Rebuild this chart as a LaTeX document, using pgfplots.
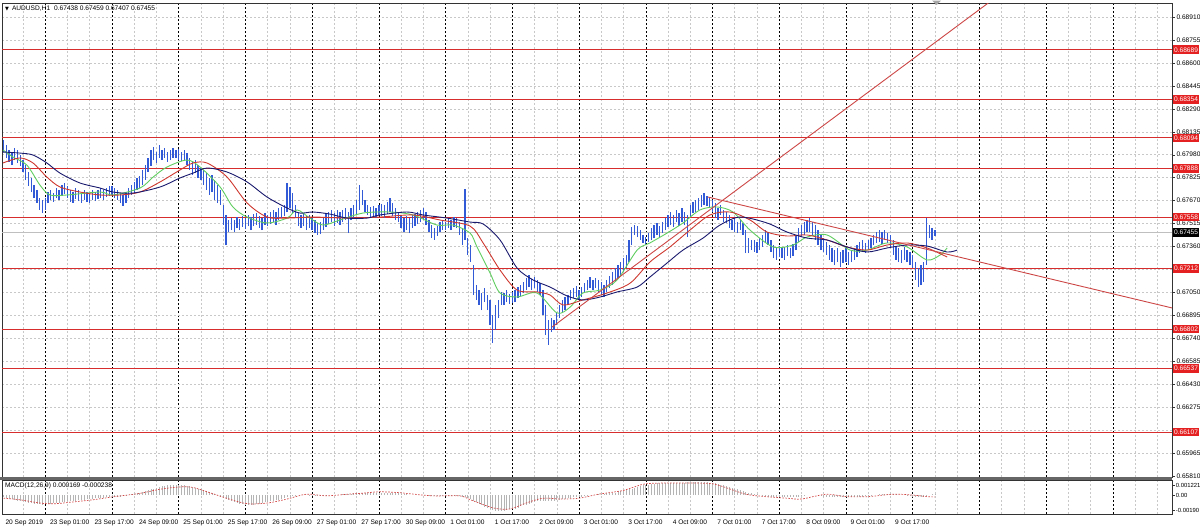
\documentclass[border=0pt]{standalone}
\usepackage{fontspec}
\setmainfont{Liberation Sans}
\newfontfamily\dejavu{DejaVu Sans}
\usepackage{pgfplots}
\usepackage{pgfplotstable}
\pgfplotsset{compat=1.18}
\definecolor{barblue}{RGB}{50,90,215}
\definecolor{hlred}{RGB}{215,45,45}
\definecolor{lblred}{RGB}{228,32,32}
\definecolor{trred}{RGB}{205,70,70}
\definecolor{mgreen}{RGB}{95,205,95}
\definecolor{mred}{RGB}{205,55,45}
\definecolor{mnavy}{RGB}{25,25,110}
\definecolor{histgrey}{RGB}{180,180,180}
\definecolor{sigred}{RGB}{210,70,70}
\definecolor{gridgrey}{RGB}{200,200,200}
\newcommand\lbl{\fontsize{6.6}{7.5}\selectfont}
\newcommand\slbl{\fontsize{5.9}{7}\selectfont}
\tikzset{rl/.style={fill=lblred, text=white, font=\lbl, anchor=west, inner sep=0pt, minimum width=26pt, minimum height=8.6pt, xshift=0.8pt}}

\pgfplotstableread{
k hi lo
-16 0.68079 0.67998
-15 0.68046 0.67958
-14 0.68012 0.67931
-13 0.67998 0.67910
-12 0.68025 0.67944
-11 0.68012 0.67924
-10 0.67978 0.67904
-9 0.67944 0.67863
-8 0.67910 0.67809
-7 0.67863 0.67769
-6 0.67823 0.67728
-5 0.67775 0.67688
-4 0.67742 0.67654
-3 0.67688 0.67607
-2 0.67674 0.67586
-1 0.67688 0.67607
0 0.67728 0.67654
1 0.67742 0.67674
2 0.67721 0.67661
3 0.67755 0.67688
4 0.67742 0.67674
5 0.67775 0.67701
6 0.67789 0.67715
7 0.67769 0.67688
8 0.67742 0.67661
9 0.67728 0.67654
10 0.67755 0.67681
11 0.67742 0.67667
12 0.67721 0.67654
13 0.67742 0.67674
14 0.67728 0.67661
15 0.67715 0.67654
16 0.67742 0.67674
17 0.67728 0.67667
18 0.67742 0.67681
19 0.67755 0.67688
20 0.67742 0.67674
21 0.67755 0.67694
22 0.67769 0.67701
23 0.67769 0.67708
24 0.67755 0.67688
25 0.67742 0.67674
26 0.67721 0.67654
27 0.67708 0.67634
28 0.67728 0.67654
29 0.67755 0.67688
30 0.67775 0.67708
31 0.67796 0.67721
32 0.67823 0.67742
33 0.67836 0.67755
34 0.67877 0.67775
35 0.67910 0.67809
36 0.67958 0.67863
37 0.68012 0.67904
38 0.68032 0.67944
39 0.67998 0.67924
40 0.68046 0.67958
41 0.68012 0.67944
42 0.68025 0.67958
43 0.67998 0.67931
44 0.68012 0.67944
45 0.68025 0.67958
46 0.68012 0.67958
47 0.68018 0.67944
48 0.67998 0.67937
49 0.68012 0.67944
50 0.67991 0.67910
51 0.67958 0.67877
52 0.67931 0.67843
53 0.67944 0.67856
54 0.67910 0.67823
55 0.67890 0.67809
56 0.67877 0.67775
57 0.67856 0.67742
58 0.67823 0.67708
59 0.67843 0.67728
60 0.67809 0.67674
61 0.67775 0.67654
62 0.67742 0.67640
63 0.67640 0.67505
64 0.67573 0.67370
65 0.67539 0.67458
66 0.67552 0.67471
67 0.67539 0.67458
68 0.67559 0.67485
69 0.67546 0.67471
70 0.67566 0.67492
71 0.67552 0.67478
72 0.67573 0.67498
73 0.67559 0.67471
74 0.67579 0.67498
75 0.67586 0.67505
76 0.67566 0.67485
77 0.67552 0.67471
78 0.67586 0.67505
79 0.67573 0.67498
80 0.67593 0.67512
81 0.67607 0.67525
82 0.67593 0.67505
83 0.67620 0.67539
84 0.67627 0.67552
85 0.67640 0.67566
86 0.67789 0.67593
87 0.67762 0.67620
88 0.67721 0.67586
89 0.67640 0.67552
90 0.67586 0.67498
91 0.67573 0.67485
92 0.67579 0.67498
93 0.67566 0.67471
94 0.67573 0.67485
95 0.67552 0.67471
96 0.67539 0.67451
97 0.67519 0.67438
98 0.67525 0.67444
99 0.67552 0.67471
100 0.67579 0.67492
101 0.67593 0.67512
102 0.67607 0.67525
103 0.67586 0.67498
104 0.67607 0.67519
105 0.67593 0.67505
106 0.67607 0.67525
107 0.67620 0.67539
108 0.67593 0.67451
109 0.67620 0.67539
110 0.67640 0.67552
111 0.67674 0.67573
112 0.67775 0.67607
113 0.67742 0.67640
114 0.67674 0.67593
115 0.67640 0.67573
116 0.67627 0.67559
117 0.67634 0.67566
118 0.67620 0.67552
119 0.67640 0.67573
120 0.67647 0.67566
121 0.67640 0.67552
122 0.67661 0.67579
123 0.67688 0.67593
124 0.67654 0.67566
125 0.67620 0.67539
126 0.67593 0.67525
127 0.67573 0.67485
128 0.67552 0.67458
129 0.67566 0.67471
130 0.67552 0.67451
131 0.67573 0.67485
132 0.67579 0.67498
133 0.67593 0.67512
134 0.67607 0.67525
135 0.67620 0.67539
136 0.67593 0.67505
137 0.67539 0.67458
138 0.67505 0.67417
139 0.67485 0.67404
140 0.67498 0.67431
141 0.67525 0.67458
142 0.67539 0.67471
143 0.67525 0.67471
144 0.67552 0.67485
145 0.67539 0.67471
146 0.67559 0.67492
147 0.67552 0.67485
148 0.67525 0.67438
149 0.67485 0.67370
150 0.67748 0.67404
151 0.67417 0.67303
152 0.67370 0.67255
153 0.67235 0.67032
154 0.67100 0.66999
155 0.67066 0.66965
156 0.67046 0.66931
157 0.67080 0.66985
158 0.67032 0.66931
159 0.66999 0.66830
160 0.66897 0.66708
161 0.66965 0.66796
162 0.66999 0.66877
163 0.67053 0.66965
164 0.67046 0.66965
165 0.67066 0.66985
166 0.67039 0.66972
167 0.67053 0.66978
168 0.67066 0.66985
169 0.67086 0.67012
170 0.67100 0.67026
171 0.67120 0.67046
172 0.67147 0.67066
173 0.67167 0.67086
174 0.67140 0.67066
175 0.67154 0.67080
176 0.67134 0.67053
177 0.67113 0.67032
178 0.67066 0.66897
179 0.66965 0.66762
180 0.66864 0.66695
181 0.66877 0.66782
182 0.66864 0.66796
183 0.66918 0.66830
184 0.66965 0.66877
185 0.66999 0.66911
186 0.67019 0.66931
187 0.67032 0.66965
188 0.67066 0.66999
189 0.67080 0.67012
190 0.67093 0.67019
191 0.67066 0.66999
192 0.67086 0.67019
193 0.67113 0.67046
194 0.67134 0.67066
195 0.67154 0.67080
196 0.67134 0.67066
197 0.67147 0.67080
198 0.67134 0.67053
199 0.67120 0.67032
200 0.67100 0.67019
201 0.67134 0.67053
202 0.67161 0.67080
203 0.67188 0.67100
204 0.67215 0.67120
205 0.67235 0.67147
206 0.67255 0.67167
207 0.67282 0.67188
208 0.67303 0.67215
209 0.67404 0.67255
210 0.67492 0.67370
211 0.67505 0.67438
212 0.67498 0.67424
213 0.67471 0.67404
214 0.67438 0.67384
215 0.67424 0.67370
216 0.67451 0.67390
217 0.67485 0.67404
218 0.67505 0.67417
219 0.67519 0.67438
220 0.67498 0.67424
221 0.67525 0.67451
222 0.67552 0.67471
223 0.67573 0.67492
224 0.67593 0.67505
225 0.67573 0.67492
226 0.67607 0.67525
227 0.67586 0.67498
228 0.67620 0.67525
229 0.67593 0.67505
230 0.67573 0.67424
231 0.67640 0.67559
232 0.67661 0.67586
233 0.67674 0.67593
234 0.67688 0.67607
235 0.67708 0.67627
236 0.67721 0.67640
237 0.67701 0.67634
238 0.67694 0.67620
239 0.67674 0.67593
240 0.67654 0.67552
241 0.67620 0.67539
242 0.67640 0.67573
243 0.67607 0.67525
244 0.67593 0.67519
245 0.67573 0.67485
246 0.67539 0.67471
247 0.67552 0.67458
248 0.67525 0.67451
249 0.67539 0.67471
250 0.67519 0.67438
251 0.67471 0.67316
252 0.67417 0.67316
253 0.67404 0.67336
254 0.67404 0.67323
255 0.67390 0.67316
256 0.67417 0.67336
257 0.67438 0.67357
258 0.67471 0.67384
259 0.67458 0.67370
260 0.67404 0.67323
261 0.67370 0.67282
262 0.67350 0.67269
263 0.67363 0.67289
264 0.67350 0.67282
265 0.67357 0.67269
266 0.67370 0.67296
267 0.67350 0.67282
268 0.67377 0.67296
269 0.67438 0.67336
270 0.67485 0.67390
271 0.67505 0.67424
272 0.67525 0.67438
273 0.67539 0.67458
274 0.67552 0.67458
275 0.67525 0.67438
276 0.67505 0.67404
277 0.67471 0.67370
278 0.67438 0.67336
279 0.67417 0.67323
280 0.67390 0.67303
281 0.67370 0.67269
282 0.67350 0.67255
283 0.67336 0.67235
284 0.67350 0.67255
285 0.67323 0.67222
286 0.67336 0.67249
287 0.67350 0.67255
288 0.67323 0.67235
289 0.67336 0.67255
290 0.67350 0.67269
291 0.67370 0.67289
292 0.67390 0.67316
293 0.67404 0.67323
294 0.67384 0.67316
295 0.67404 0.67336
296 0.67417 0.67350
297 0.67438 0.67370
298 0.67458 0.67384
299 0.67471 0.67390
300 0.67458 0.67377
301 0.67471 0.67404
302 0.67451 0.67384
303 0.67438 0.67357
304 0.67404 0.67303
305 0.67357 0.67269
306 0.67350 0.67255
307 0.67336 0.67249
308 0.67357 0.67269
309 0.67336 0.67255
310 0.67323 0.67235
311 0.67303 0.67215
312 0.67255 0.67134
313 0.67215 0.67086
314 0.67235 0.67100
315 0.67255 0.67120
316 0.67552 0.67235
317 0.67505 0.67417
318 0.67485 0.67404
319 0.67471 0.67431
}\bars

\pgfplotstableread{
k v
-16 -0.0003
-15 -0.0004
-14 -0.0005
-13 -0.0005
-12 -0.0006
-11 -0.0007
-10 -0.0008
-9 -0.0008
-8 -0.0009
-7 -0.0010
-6 -0.0010
-5 -0.0011
-4 -0.0011
-3 -0.0011
-2 -0.0012
-1 -0.0011
0 -0.0011
1 -0.0011
2 -0.0010
3 -0.0010
4 -0.0010
5 -0.0009
6 -0.0009
7 -0.0008
8 -0.0008
9 -0.0007
10 -0.0007
11 -0.0006
12 -0.0006
13 -0.0006
14 -0.0005
15 -0.0005
16 -0.0005
17 -0.0004
18 -0.0004
19 -0.0004
20 -0.0004
21 -0.0003
22 -0.0003
23 -0.0003
24 -0.0003
25 -0.0002
26 -0.0002
27 -0.0001
28 -0.0001
29 0
30 0.0001
31 0.0001
32 0.0002
33 0.0003
34 0.0004
35 0.0005
36 0.0006
37 0.0007
38 0.0008
39 0.0009
40 0.0010
41 0.0011
42 0.0011
43 0.0012
44 0.0012
45 0.0012
46 0.0013
47 0.0012
48 0.0012
49 0.0012
50 0.0011
51 0.0011
52 0.0010
53 0.0009
54 0.0008
55 0.0007
56 0.0006
57 0.0005
58 0.0004
59 0.0002
60 0.0001
61 0
62 -0.0002
63 -0.0003
64 -0.0005
65 -0.0006
66 -0.0008
67 -0.0009
68 -0.0010
69 -0.0011
70 -0.0011
71 -0.0012
72 -0.0012
73 -0.0012
74 -0.0012
75 -0.0011
76 -0.0011
77 -0.0010
78 -0.0009
79 -0.0009
80 -0.0008
81 -0.0007
82 -0.0006
83 -0.0006
84 -0.0005
85 -0.0004
86 -0.0003
87 -0.0002
88 -0.0001
89 -0.0001
90 0
91 0
92 0
93 0
94 -0.0001
95 -0.0001
96 -0.0001
97 -0.0001
98 -0.0001
99 -0.0001
100 -0.0001
101 0
102 0
103 0
104 0
105 0
106 0.0001
107 0.0001
108 0.0001
109 0.0001
110 0.0002
111 0.0002
112 0.0003
113 0.0003
114 0.0003
115 0.0003
116 0.0003
117 0.0003
118 0.0003
119 0.0003
120 0.0003
121 0.0003
122 0.0003
123 0.0003
124 0.0003
125 0.0002
126 0.0002
127 0.0001
128 0.0001
129 0.0001
130 0
131 0
132 0
133 0
134 0
135 0
136 0
137 -0.0001
138 -0.0001
139 -0.0001
140 -0.0001
141 -0.0001
142 -0.0001
143 -0.0001
144 -0.0001
145 -0.0001
146 -0.0001
147 -0.0001
148 -0.0001
149 -0.0002
150 -0.0003
151 -0.0004
152 -0.0005
153 -0.0007
154 -0.0009
155 -0.0011
156 -0.0013
157 -0.0015
158 -0.0016
159 -0.0018
160 -0.0019
161 -0.0020
162 -0.0020
163 -0.0020
164 -0.0020
165 -0.0019
166 -0.0018
167 -0.0018
168 -0.0017
169 -0.0016
170 -0.0014
171 -0.0013
172 -0.0012
173 -0.0011
174 -0.0010
175 -0.0009
176 -0.0008
177 -0.0008
178 -0.0008
179 -0.0007
180 -0.0007
181 -0.0007
182 -0.0007
183 -0.0006
184 -0.0006
185 -0.0005
186 -0.0005
187 -0.0004
188 -0.0004
189 -0.0003
190 -0.0003
191 -0.0002
192 -0.0002
193 -0.0001
194 -0.0001
195 0
196 0
197 0
198 0.0001
199 0.0001
200 0.0001
201 0.0002
202 0.0002
203 0.0003
204 0.0003
205 0.0004
206 0.0005
207 0.0005
208 0.0006
209 0.0007
210 0.0008
211 0.0009
212 0.0010
213 0.0011
214 0.0012
215 0.0013
216 0.0013
217 0.0014
218 0.0014
219 0.0015
220 0.0015
221 0.0015
222 0.0015
223 0.0015
224 0.0015
225 0.0015
226 0.0015
227 0.0015
228 0.0015
229 0.0015
230 0.0016
231 0.0016
232 0.0016
233 0.0016
234 0.0016
235 0.0016
236 0.0016
237 0.0016
238 0.0015
239 0.0015
240 0.0015
241 0.0014
242 0.0013
243 0.0012
244 0.0011
245 0.0010
246 0.0009
247 0.0008
248 0.0007
249 0.0006
250 0.0005
251 0.0004
252 0.0003
253 0.0002
254 0.0001
255 0.0001
256 0
257 -0.0001
258 -0.0001
259 -0.0002
260 -0.0002
261 -0.0002
262 -0.0003
263 -0.0003
264 -0.0003
265 -0.0003
266 -0.0003
267 -0.0003
268 -0.0003
269 -0.0002
270 -0.0002
271 -0.0001
272 -0.0001
273 0
274 0
275 0
276 0
277 -0.0001
278 -0.0001
279 -0.0002
280 -0.0002
281 -0.0002
282 -0.0003
283 -0.0003
284 -0.0003
285 -0.0003
286 -0.0003
287 -0.0003
288 -0.0003
289 -0.0003
290 -0.0002
291 -0.0002
292 -0.0002
293 -0.0002
294 -0.0001
295 -0.0001
296 -0.0001
297 0
298 0
299 0.0001
300 0.0001
301 0.0001
302 0.0001
303 0.0001
304 0.0001
305 0.0001
306 0
307 0
308 0
309 -0.0001
310 -0.0001
311 -0.0002
312 -0.0002
313 -0.0002
314 -0.0003
315 -0.0002
316 -0.0001
317 0
318 0.0001
319 0.000169
}\macdh

\pgfplotstableread{
k v
-16 -0.0004
-10 -0.0006
-3 -0.0010
2 -0.0011
8 -0.0009
16 -0.0006
24 -0.0002
33 0.0002
40 0.0007
47 0.0010
52 0.00095
59 0.0002
66 -0.0006
72 -0.0011
79 -0.0010
86 -0.0005
93 0.0001
100 -0.0001
108 0.0001
114 0.00025
119 0.0004
126 0.0003
138 -0.0001
148 -0.0001
152 -0.0006
160 -0.0016
166 -0.00175
172 -0.0010
178 -0.0004
184 -0.0005
191 -0.0004
198 0.0001
206 0.0005
210 0.0009
215 0.0014
223 0.0015
232 0.0015
239 0.0014
244 0.0009
251 0.0001
258 -0.0002
266 -0.0004
271 -0.0005
280 0.0001
287 -0.0002
295 -0.0002
304 0.0001
311 0
316 -0.0002
319 -0.000238
}\macds

\pgfplotstableread{
k p
-16.2 0.67998
-10.1 0.67991
-5.4 0.67978
-0.4 0.67924
4.3 0.67856
11.5 0.67789
18.7 0.67755
23.4 0.67728
30.6 0.67721
40.3 0.67762
47.5 0.67823
52.2 0.67856
57.2 0.67890
64.4 0.67863
71.6 0.67796
78.8 0.67694
86.0 0.67620
90.6 0.67586
95.3 0.67593
101.4 0.67579
107.6 0.67552
114.7 0.67552
119.4 0.67573
129.1 0.67593
134.9 0.67573
143.5 0.67552
151.8 0.67525
156.5 0.67512
162.6 0.67404
168.7 0.67215
174.5 0.67134
180.6 0.67086
186.7 0.67026
192.4 0.66999
198.6 0.67019
204.7 0.67053
211.9 0.67086
216.5 0.67154
222.7 0.67249
228.4 0.67336
235.6 0.67417
241.7 0.67505
248.9 0.67559
258.6 0.67519
265.8 0.67458
273.0 0.67417
280.2 0.67404
287.4 0.67357
294.6 0.67323
301.8 0.67350
309.0 0.67370
316.2 0.67363
323.4 0.67323
327.0 0.67336
}\manavy

\pgfplotstableread{
k p
-16.2 0.67924
-10.1 0.67958
-5.4 0.67924
-0.4 0.67829
4.3 0.67762
11.5 0.67728
18.7 0.67708
25.9 0.67708
33.1 0.67728
40.3 0.67796
47.5 0.67877
52.2 0.67924
57.2 0.67924
64.4 0.67829
71.6 0.67654
78.8 0.67559
86.0 0.67552
95.3 0.67559
107.6 0.67552
119.4 0.67559
131.3 0.67573
141.0 0.67539
151.8 0.67498
156.5 0.67384
162.6 0.67201
168.7 0.67066
175.9 0.67053
180.6 0.67032
185.3 0.66965
192.4 0.66999
201.1 0.67046
209.4 0.67113
216.5 0.67255
223.7 0.67357
230.9 0.67471
238.1 0.67573
245.3 0.67593
252.5 0.67539
258.6 0.67458
265.8 0.67431
273.0 0.67438
280.2 0.67404
287.4 0.67357
294.6 0.67336
301.8 0.67370
309.0 0.67384
316.2 0.67350
323.4 0.67289
}\mared

\pgfplotstableread{
k p
-16.2 0.68012
-12.6 0.67964
-7.6 0.67910
-2.9 0.67775
0.7 0.67708
6.8 0.67708
18.7 0.67728
23.4 0.67708
33.1 0.67755
37.8 0.67829
42.8 0.67897
50.0 0.67944
54.7 0.67897
61.9 0.67762
66.5 0.67627
71.6 0.67559
78.8 0.67519
86.0 0.67552
89.6 0.67607
94.2 0.67552
98.9 0.67505
105.0 0.67539
113.3 0.67586
123.0 0.67593
131.3 0.67573
139.9 0.67505
145.7 0.67505
151.8 0.67451
154.3 0.67357
159.0 0.67181
162.6 0.67046
168.7 0.67019
175.9 0.67046
183.1 0.66911
187.8 0.66951
192.4 0.67046
198.6 0.67066
204.7 0.67134
211.9 0.67336
216.5 0.67384
222.7 0.67451
228.4 0.67519
234.5 0.67607
240.6 0.67627
246.4 0.67593
252.5 0.67471
260.8 0.67357
268.0 0.67370
273.0 0.67424
280.2 0.67438
288.5 0.67336
294.6 0.67336
301.8 0.67384
309.0 0.67357
316.2 0.67269
320.9 0.67303
323.4 0.67350
}\magreen

\begin{document}
\begin{tikzpicture}
\begin{axis}[
  at={(2pt,-3pt)}, anchor=north west,
  width=1170pt, height=474pt, scale only axis,
  set layers, clip mode=individual,
  xmin=-16.55, xmax=404.3, ymin=0.658032, ymax=0.690046,
  axis line style={draw=black!80, line width=0.6pt},
  xtick={-1,23,...,383}, xticklabels={},
  minor xtick={-9,7,15,31,39,55,63,79,87,103,111,127,135,151,159,175,183,199,207,223,231,247,255,271,279,295,303,319,327,343,351,367,375,391,399},
  xmajorgrids, xminorgrids, yminorgrids,
  major grid style={draw=black, line width=0.5pt, dash pattern=on 2pt off 2pt},
  minor grid style={draw=gridgrey, line width=0.5pt, dash pattern=on 2pt off 2pt},
  xtick style={draw=none},
  ytick={0.65810,0.65965,0.66120,0.66275,0.66430,0.66585,0.66740,0.66895,0.67050,0.67205,0.67360,0.67515,0.67670,0.67825,0.67980,0.68135,0.68290,0.68445,0.68600,0.68755,0.68910},
  minor ytick={0.65965,0.66120,0.66275,0.66430,0.66585,0.66740,0.66895,0.67050,0.67205,0.67360,0.67515,0.67670,0.67825,0.67980,0.68135,0.68290,0.68445,0.68600,0.68755,0.68910},
  yticklabels={0.65810,0.65965,{},0.66275,0.66430,0.66585,0.66740,0.66895,0.67050,{},0.67360,0.67515,0.67670,0.67825,0.67980,0.68135,0.68290,0.68445,0.68600,0.68755,0.68910},
  ytick pos=right, yticklabel pos=right, tick align=outside,
  major tick length=2.5pt, minor tick length=0pt,
  ytick style={draw=black!80, line width=0.4pt},
  yticklabel style={font=\lbl, text=black, xshift=-1.5pt},
  /pgf/number format/assume math mode=true,
]
\addplot[black!25, line width=0.5pt] coordinates {(-16.55,0.67455) (404.3,0.67455)};
\pgfplotsinvokeforeach{0.68689,0.68354,0.68094,0.67888,0.67558,0.67212,0.66802,0.66537,0.66107}{
  \addplot[hlred, line width=0.9pt] coordinates {(-16.55,#1) (404.3,#1)};
}
\addplot[draw=none, mark=none, error bars/.cd, y dir=plus, y explicit, error mark=none,
  error bar style={draw=barblue, line width=1.3pt}]
  table[x=k, y=lo, y error expr=\thisrow{hi}-\thisrow{lo}] {\bars};
\addplot[mgreen, line width=0.9pt, smooth] table[x=k, y=p] {\magreen};
\addplot[mred, line width=0.9pt, smooth] table[x=k, y=p] {\mared};
\addplot[mnavy, line width=0.9pt, smooth] table[x=k, y=p] {\manavy};
\addplot[trred, line width=0.9pt] coordinates {(181.3,0.66816) (404.3,0.69927)};
\addplot[trred, line width=0.9pt] coordinates {(237.4,0.67694) (404.3,0.66945)};
\pgfplotsinvokeforeach{0.68689,0.68354,0.68094,0.67888,0.67558,0.67212,0.66802,0.66537,0.66107}{
  \node[rl] at (axis cs:404.3,#1) {#1};
}
\node[rl, fill=black] at (axis cs:404.3,0.67455) {0.67455};
\end{axis}

\begin{axis}[
  at={(2pt,-480pt)}, anchor=north west,
  width=1170pt, height=34pt, scale only axis,
  clip mode=individual,
  xmin=-16.55, xmax=404.3, ymin=-0.002372, ymax=0.001873,
  scaled y ticks=false,
  axis line style={draw=black!80, line width=0.6pt},
  xtick={-1,23,...,383}, xticklabels={},
  minor xtick={-9,7,15,31,39,55,63,79,87,103,111,127,135,151,159,175,183,199,207,223,231,247,255,271,279,295,303,319,327,343,351,367,375,391,399},
  xmajorgrids, xminorgrids,
  major grid style={draw=black, line width=0.5pt, dash pattern=on 2pt off 2pt},
  minor grid style={draw=gridgrey, line width=0.5pt, dash pattern=on 2pt off 2pt},
  xtick style={draw=none},
  extra x ticks={-16,0,16,...,304},
  extra x tick labels={20 Sep 2019,23 Sep 01:00,23 Sep 17:00,24 Sep 09:00,25 Sep 01:00,25 Sep 17:00,26 Sep 09:00,27 Sep 01:00,27 Sep 17:00,30 Sep 09:00,1 Oct 01:00,1 Oct 17:00,2 Oct 09:00,3 Oct 01:00,3 Oct 17:00,4 Oct 09:00,7 Oct 01:00,7 Oct 17:00,8 Oct 09:00,9 Oct 01:00,9 Oct 17:00},
  extra x tick style={grid=none},
  xticklabel style={font=\lbl, anchor=north west, xshift=-1.5pt},
  ytick={-0.0019,0,0.001221}, yticklabels={-0.00190,0.00,0.001221},
  ytick pos=right, yticklabel pos=right, tick align=outside,
  major tick length=2.5pt, minor tick length=0pt,
  ytick style={draw=black!80, line width=0.4pt},
  yticklabel style={font=\slbl, text=black, xshift=-2.2pt},
  /pgf/number format/assume math mode=true,
]
\addplot[ycomb, draw=histgrey, line width=0.7pt] table[x=k, y=v] {\macdh};
\addplot[sigred, line width=0.7pt, dash pattern=on 1.6pt off 1.4pt, smooth] table[x=k, y=v] {\macds};
\end{axis}

\fill[black!60] (0pt,-477pt) rectangle (1172pt,-480pt);
\fill[black!35] (932pt,-0.5pt) -- (941pt,-0.5pt) -- (936.5pt,-5pt) -- cycle;
\node[anchor=west, inner sep=0pt] at (5pt,-9pt) {{\dejavu\fontsize{5}{6}\selectfont ▼}\hspace{3pt}{\lbl AUDUSD,H1\hspace{4pt}0.67438 0.67459 0.67407 0.67455}};
\node[anchor=west, inner sep=0pt, font=\lbl] at (5pt,-486pt) {MACD(12,26,9) 0.000169 -0.000238};
\pgfresetboundingbox
\path[use as bounding box] (0,0) rectangle (1200pt,-531pt);
\end{tikzpicture}
\end{document}
